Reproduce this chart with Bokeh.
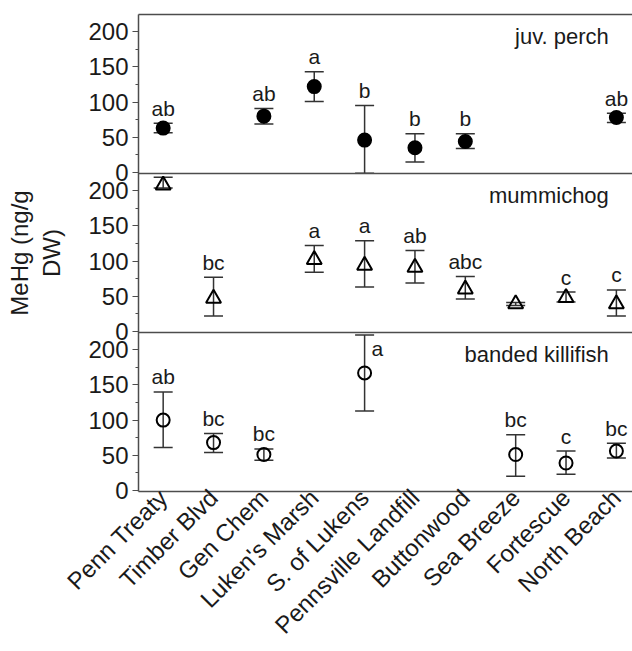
import math
from bokeh.plotting import figure
from bokeh.models import ColumnDataSource, Range1d, LinearAxis, FixedTicker, Label, Span
from bokeh.transform import dodge
from bokeh.embed import file_html
from bokeh.resources import INLINE
from bokeh.core.properties import value

sites = ["Penn Treaty", "Timber Blvd", "Gen Chem", "Luken's Marsh", "S. of Lukens",
         "Pennsville Landfill", "Buttonwood", "Sea Breeze", "Fortescue", "North Beach"]

# juv. perch
perch_mean = [63, None, 80, 122, 46, 35, 44, None, None, 78]
perch_lower = [56.5, None, 69, 101, -1, 15, 34, None, None, 71]
perch_upper = [70, None, 91, 143, 95, 55, 55, None, None, 84]
perch_letters = ["ab", "", "ab", "a", "b", "b", "b", "", "", "ab"]

# mummichog
mumm_mean = [208, 47, None, 102, 94, 91, 60, 39, 48, 39]
mumm_lower = [204, 22, None, 84, 63, 69, 46, 37, 42, 22]
mumm_upper = [219, 77, None, 122, 129, 115, 78, 41, 56, 59]
mumm_letters = ["", "bc", "", "a", "a", "ab", "abc", "", "c", "c"]

# banded killifish
kill_mean = [100, 68, 51, None, 167, None, None, 51, 39, 56]
kill_lower = [61, 54, 43, None, 113, None, None, 20, 23, 46]
kill_upper = [140, 81, 59, None, 221, None, None, 79, 56, 67]
kill_letters = ["ab", "bc", "bc", "", "a", "", "", "bc", "c", "bc"]

species = ["juv. perch", "mummichog", "banded killifish"]
y_major = [0, 50, 100, 150, 200]
y_minor = [25, 75, 125, 175]
y_label = "MeHg (ng/g\nDW)"

FONT = "Liberation Sans"
AX = "#4d4d4d"
TXT = "#1a1a1a"
ERR = "#333333"

# each panel shows its own 0..200 scale; panels are stacked with a fixed offset
SPAN = 226
LO = -1.5
panels = [
    (species[0], perch_mean, perch_lower, perch_upper, perch_letters, "circle", True, 13, 2 * SPAN),
    (species[1], mumm_mean, mumm_lower, mumm_upper, mumm_letters, "triangle", False, 15, SPAN),
    (species[2], kill_mean, kill_lower, kill_upper, kill_letters, "circle", False, 13, 0),
]

p = figure(width=632, height=651,
           x_range=Range1d(-0.49, 9.32), y_range=Range1d(LO, 3 * SPAN + LO),
           output_backend="svg", toolbar_location=None,
           min_border_left=138, min_border_right=0,
           min_border_top=14, min_border_bottom=158)
p.outline_line_color = None
p.xgrid.visible = False
p.ygrid.visible = False
p.background_fill_color = "white"
p.border_fill_color = "white"

for name, mean, lower, upper, letters, marker, filled, msize, off in panels:
    idx = [i for i, m in enumerate(mean) if m is not None]
    src = ColumnDataSource(dict(
        x=idx,
        mean=[mean[i] for i in idx],
        lower=[lower[i] for i in idx],
        upper=[upper[i] for i in idx],
    ))
    p.segment(x0="x", y0=dodge("lower", off), x1="x", y1=dodge("upper", off),
              source=src, line_color=ERR, line_width=1.5)
    p.scatter(x="x", y=dodge("upper", off), marker="dash", size=19, source=src,
              line_color=ERR, line_width=1.5)
    p.scatter(x="x", y=dodge("lower", off), marker="dash", size=19, source=src,
              line_color=ERR, line_width=1.5)
    p.scatter(x="x", y=dodge("mean", off), marker=marker, size=msize, source=src,
              fill_color="black" if filled else None,
              line_color="black", line_width=2)

    top_idx = [i for i in idx if letters[i] and upper[i] <= 200]
    side_idx = [i for i in idx if letters[i] and upper[i] > 200]
    if top_idx:
        s1 = ColumnDataSource(dict(x=top_idx, y=[upper[i] for i in top_idx],
                                   t=[letters[i] for i in top_idx]))
        p.text(x="x", y=dodge("y", off), text="t", source=s1, text_align="center",
               text_baseline="alphabetic", y_offset=-15,
               text_font=value(FONT), text_font_size="21px", text_color=TXT)
    if side_idx:
        s2 = ColumnDataSource(dict(x=side_idx, y=[upper[i] for i in side_idx],
                                   t=[letters[i] for i in side_idx]))
        p.text(x="x", y=dodge("y", off), text="t", source=s2, text_align="left",
               text_baseline="middle", x_offset=7, y_offset=14,
               text_font=value(FONT), text_font_size="21px", text_color=TXT)

    p.add_layout(Label(x=8.85, y=off + 193, text=name, text_align="right",
                       text_baseline="alphabetic", text_font=FONT,
                       text_font_size="22px", text_color=TXT))
    if off > 0:
        p.add_layout(Span(location=off + LO, dimension="width",
                          line_color=AX, line_width=1.5))

# y axis: a 0..200 scale repeated for each panel
offsets = [pn[-1] for pn in panels]
ya = p.yaxis[0]
ya.ticker = FixedTicker(ticks=[o + t for o in offsets for t in y_major],
                        minor_ticks=[o + t for o in offsets for t in y_minor])
ya.major_label_overrides = {o + t: str(t) for o in offsets for t in y_major}
ya.major_tick_out = 6
ya.major_tick_in = 0
ya.minor_tick_out = 3
ya.minor_tick_in = 0
ya.major_label_standoff = 4
ya.major_label_text_font = FONT
ya.major_label_text_font_size = "24px"
ya.major_label_text_color = TXT
ya.axis_line_color = AX
ya.axis_line_width = 1.5
ya.major_tick_line_color = AX
ya.major_tick_line_width = 1.2
ya.minor_tick_line_color = AX
ya.minor_tick_line_width = 1.2
ya.axis_label = y_label
ya.axis_label_text_font = FONT
ya.axis_label_text_font_size = "24px"
ya.axis_label_text_font_style = "normal"
ya.axis_label_text_color = TXT
ya.axis_label_standoff = 20

# top border line
top_ax = LinearAxis(ticker=FixedTicker(ticks=[]), major_tick_out=0, major_tick_in=0,
                    minor_tick_out=0, minor_tick_in=0, major_label_standoff=0,
                    major_label_text_font_size="0px",
                    axis_line_color=AX, axis_line_width=1.5)
p.add_layout(top_ax, "above")

# category axis
xa = p.below[0]
xa.ticker = FixedTicker(ticks=list(range(len(sites))))
xa.major_label_overrides = {i: s for i, s in enumerate(sites)}
xa.major_tick_out = 0
xa.major_tick_in = 0
xa.minor_tick_line_color = None
xa.major_tick_line_color = None
xa.major_label_standoff = 2
xa.major_label_orientation = math.pi / 4
xa.major_label_text_font = FONT
xa.major_label_text_font_size = "24px"
xa.major_label_text_color = TXT
xa.axis_line_color = AX
xa.axis_line_width = 1.5

open("out.html", "w").write(file_html(p, INLINE))
